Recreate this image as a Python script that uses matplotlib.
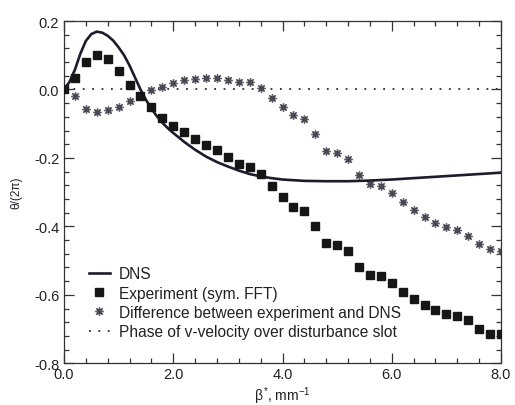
import matplotlib
matplotlib.use("Agg")
import matplotlib.pyplot as plt
from matplotlib.ticker import MultipleLocator, FormatStrFormatter
from matplotlib.legend_handler import HandlerTuple
from matplotlib.lines import Line2D

plt.rcParams['font.family'] = ['Liberation Sans', 'DejaVu Sans']
plt.rcParams['mathtext.fontset'] = 'custom'
plt.rcParams['mathtext.rm'] = 'Liberation Sans'
plt.rcParams['mathtext.it'] = 'Liberation Sans'

# Experiment (sym. FFT) and difference, sampled every 0.2 mm^-1
beta_exp = [round(0.2 * i, 1) for i in range(41)]
exp_vals = [0.0, 0.035, 0.08, 0.10, 0.089, 0.055, 0.014, -0.018, -0.051, -0.082,
            -0.106, -0.124, -0.144, -0.163, -0.177, -0.198, -0.218, -0.227, -0.247, -0.282,
            -0.314, -0.342, -0.356, -0.40, -0.448, -0.455, -0.472, -0.52, -0.543, -0.545,
            -0.566, -0.593, -0.612, -0.631, -0.645, -0.656, -0.662, -0.674, -0.70, -0.715,
            -0.715]
diff_vals = [0.0, -0.018, -0.057, -0.067, -0.059, -0.05, -0.033, -0.02, -0.001, 0.006,
             0.018, 0.027, 0.032, 0.033, 0.034, 0.027, 0.021, 0.023, 0.003, -0.026,
             -0.052, -0.075, -0.087, -0.13, -0.181, -0.186, -0.204, -0.25, -0.275, -0.282,
             -0.303, -0.33, -0.353, -0.372, -0.391, -0.403, -0.41, -0.428, -0.452, -0.467,
             -0.472]

# DNS curve
beta_dns = [0.0, 0.1, 0.2, 0.3, 0.4, 0.5, 0.6, 0.7, 0.8, 0.9, 1.0, 1.1, 1.2, 1.3, 1.4,
            1.5, 1.6, 1.7, 1.8, 1.9, 2.0, 2.2, 2.4, 2.6, 2.8, 3.0, 3.2, 3.4, 3.6, 3.8,
            4.0, 4.4, 4.8, 5.2, 5.6, 6.0, 6.4, 6.8, 7.2, 7.6, 8.0]
dns_vals = [0.0, 0.022, 0.058, 0.105, 0.142, 0.162, 0.169, 0.166, 0.157, 0.143, 0.123,
            0.100, 0.070, 0.035, 0.000, -0.030, -0.056, -0.078, -0.097, -0.113, -0.127,
            -0.153, -0.176, -0.196, -0.212, -0.225, -0.237, -0.247, -0.254, -0.259,
            -0.263, -0.267, -0.268, -0.268, -0.266, -0.263, -0.259, -0.255, -0.251,
            -0.247, -0.243]

# Phase of v-velocity over disturbance slot
beta_slot = [0.0, 8.0]
slot_vals = [0.0, 0.0]

fig = plt.figure(figsize=(5.15, 4.06), dpi=100)
ax = fig.add_axes([0.1243, 0.1027, 0.8485, 0.843])

ax.plot(beta_slot, slot_vals, linestyle=(0, (1, 4.2)), color='#2a2a3a', lw=1.3,
        dash_capstyle='butt', zorder=1)
ax.plot(beta_dns, dns_vals, color='#1c1c2c', lw=1.9, zorder=3)
ax.plot(beta_exp, exp_vals, linestyle='none', marker='s', ms=5.6, color='#161616',
        mec='#161616', zorder=4)
ax.plot(beta_exp, diff_vals, linestyle='none', marker=(8, 2, 0), ms=6.5, color='#6a6a72',
        mew=0.9, zorder=2)
ax.plot(beta_exp, diff_vals, linestyle='none', marker='s', ms=2.6, color='#4a4a55',
        mec='#4a4a55', zorder=2)

ax.set_xlim(0, 8)
ax.set_ylim(-0.8, 0.2)
ax.xaxis.set_major_locator(MultipleLocator(2.0))
ax.xaxis.set_minor_locator(MultipleLocator(0.4))
ax.yaxis.set_major_locator(MultipleLocator(0.2))
ax.yaxis.set_minor_locator(MultipleLocator(0.04))
ax.xaxis.set_major_formatter(FormatStrFormatter('%.1f'))
ax.yaxis.set_major_formatter(FormatStrFormatter('%.1f'))
ax.tick_params(which='both', direction='in', top=True, right=True, labelsize=10.5,
               color='#333333', width=0.9, labelcolor='#222222')
ax.tick_params(which='major', length=7)
ax.tick_params(which='minor', length=3.5)
ax.tick_params(axis='x', pad=3)
for s in ax.spines.values():
    s.set_linewidth(0.9)
    s.set_color('#333333')

ax.set_xlabel(r'$\beta^{*}$, mm$^{-1}$', fontsize=10, labelpad=2, color='#222222')
ax.set_ylabel('θ/(2π)', fontsize=8.5, labelpad=8, color='#222233')

h_dns = Line2D([], [], color='#1c1c2c', lw=1.9)
h_exp = Line2D([], [], linestyle='none', marker='s', ms=5.6, color='#161616')
h_d1 = Line2D([], [], linestyle='none', marker=(8, 2, 0), ms=6.5, color='#6a6a72', mew=0.9)
h_d2 = Line2D([], [], linestyle='none', marker='s', ms=2.6, color='#4a4a55')
h_slot = Line2D([], [], linestyle=(0, (1, 4.2)), color='#2a2a3a', lw=1.3)
leg = ax.legend([h_dns, h_exp, (h_d1, h_d2), h_slot],
                ['DNS', 'Experiment (sym. FFT)', 'Difference between experiment and DNS',
                 'Phase of v-velocity over disturbance slot'],
                handler_map={tuple: HandlerTuple(ndivide=1)},
                loc='upper left', bbox_to_anchor=(0.042, 0.302), frameon=False,
                fontsize=11.2, handlelength=1.4, handletextpad=0.55, labelspacing=0.28,
                borderaxespad=0)
for t in leg.get_texts():
    t.set_color('#222222')

fig.savefig('out.png', dpi=100)
